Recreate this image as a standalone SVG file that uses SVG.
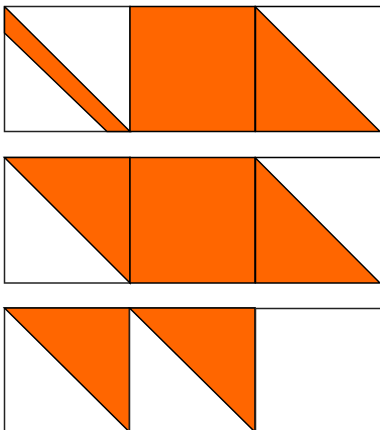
<svg xmlns="http://www.w3.org/2000/svg" width="380" height="430" viewBox="0 0 380 430">
<style>
.o{fill:#FF6600;stroke:#000;stroke-width:1.5;stroke-linejoin:miter}
.w{fill:#fff;stroke:#222;stroke-width:1.5}
.l{fill:none;stroke:#000;stroke-width:1.5}
</style>
<rect width="380" height="430" fill="#fff"/>
<g id="r1c1">
<rect class="w" x="4.5" y="6.5" width="125.5" height="125"/>
<polygon class="o" points="5,7 130,131.5 107,131.5 4.5,33 4.5,7"/>
</g>
<g id="r1c2">
<rect class="o" x="130" y="6.5" width="125" height="125"/>
</g>
<g id="r1c3">
<line class="l" x1="255" y1="6.5" x2="381" y2="6.5"/>
<polygon class="o" points="255.5,7 380,131.5 255.5,131.5"/>
</g>
<g id="r2c1">
<rect class="w" x="4.5" y="157.5" width="125.5" height="125.5"/>
<polygon class="o" points="4.5,157.5 130,157.5 130,283"/>
</g>
<g id="r2c2">
<rect class="o" x="130" y="157.5" width="125" height="125.5"/>
</g>
<g id="r2c3">
<line class="l" x1="255" y1="157.5" x2="381" y2="157.5"/>
<polygon class="o" points="255.5,158 380,283 255.5,283"/>
</g>
<g id="r3c1">
<rect class="w" x="4.5" y="308" width="125" height="126"/>
<polygon class="o" points="4.5,308 129.5,308 129.5,432"/>
</g>
<g id="r3c2">
<rect class="w" x="129.5" y="308" width="125.5" height="126"/>
<polygon class="o" points="129.5,308 255,308 255,432"/>
</g>
<g id="r3c3">
<rect class="w" x="255.5" y="308.5" width="126" height="126"/>
</g>
</svg>
